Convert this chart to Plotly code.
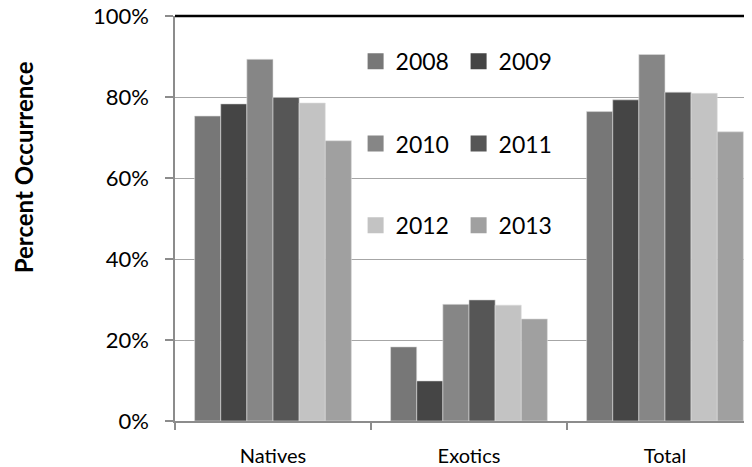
import plotly.graph_objects as go

categories = ["Natives", "Exotics", "Total"]
years = ["2008", "2009", "2010", "2011", "2012", "2013"]
values = {
    "2008": [75.3, 18.3, 76.4],
    "2009": [78.3, 9.9, 79.3],
    "2010": [89.3, 28.8, 90.5],
    "2011": [79.9, 29.9, 81.2],
    "2012": [78.5, 28.6, 80.9],
    "2013": [69.2, 25.2, 71.4],
}
colors = {
    "2008": "#777777",
    "2009": "#454545",
    "2010": "#868686",
    "2011": "#565656",
    "2012": "#c3c3c3",
    "2013": "#a0a0a0",
}
legend_of = {"2008": "legend", "2009": "legend", "2010": "legend2",
             "2011": "legend2", "2012": "legend3", "2013": "legend3"}

FONT = "Lato"
fig = go.Figure()
for yr in years:
    fig.add_trace(go.Bar(
        x=categories, y=[v / 100 for v in values[yr]], name=yr,
        marker=dict(color=colors[yr], line=dict(width=0.6, color="#dcdcdc")),
        showlegend=False,
    ))
# legend entries (square swatches)
for yr in years:
    fig.add_trace(go.Scatter(
        x=[None], y=[None], mode="markers", name=yr,
        marker=dict(symbol="square", size=16, color=colors[yr]),
        legend=legend_of[yr], showlegend=True, hoverinfo="skip",
    ))

leg_common = dict(orientation="h", xanchor="left", yanchor="middle",
                  x=0.313, font=dict(family=FONT, size=23, color="#000"),
                  bgcolor="rgba(0,0,0,0)", entrywidth=58, entrywidthmode="pixels",
                  traceorder="normal", itemsizing="trace")

# The page body has an 8px margin, so the figure is offset by 8px;
# size and margins compensate so the plot area lands where the reference has it.
fig.update_layout(
    width=744, height=459,
    margin=dict(l=167, r=0, t=8, b=46, autoexpand=False),
    paper_bgcolor="white", plot_bgcolor="white",
    barmode="group", bargap=0.2, bargroupgap=0,
    font=dict(family=FONT, size=22, color="#000"),
    legend=dict(leg_common, y=0.888),
    legend2=dict(leg_common, y=0.685),
    legend3=dict(leg_common, y=0.483),
    xaxis=dict(
        range=[-0.5, 2.444], showgrid=False, showline=True, linecolor="#8c8c8c",
        linewidth=1.5, ticks="outside", tickson="boundaries", ticklen=7,
        tickcolor="#8c8c8c", tickwidth=1.5, ticklabelstandoff=16,
        tickfont=dict(family=FONT, size=20), automargin=False,
        ticklabeloverflow="allow",
    ),
    yaxis=dict(
        range=[0, 1], tickvals=[0, 0.2, 0.4, 0.6, 0.8, 1.0], tickformat=".0%",
        showgrid=True, gridcolor="#a6a6a6", gridwidth=1.2, showline=True,
        linecolor="#8c8c8c", linewidth=1.5, ticks="outside", ticklen=8,
        tickcolor="#8c8c8c", tickwidth=1.5, ticklabelstandoff=12, zeroline=False,
        tickfont=dict(family=FONT, size=22), automargin=False,
        ticklabeloverflow="allow",
    ),
    shapes=[dict(type="line", xref="paper", yref="paper", x0=0, x1=1, y0=1, y1=1,
                 layer="above", line=dict(color="#000", width=2.5))],
    annotations=[dict(text="<b>Percent Occurrence</b>", textangle=-90,
                      xref="paper", yref="paper", x=-0.262, y=0.626,
                      xanchor="center", yanchor="middle", showarrow=False,
                      font=dict(family=FONT, size=24, color="#000"))],
)

fig.write_html("out.html")
